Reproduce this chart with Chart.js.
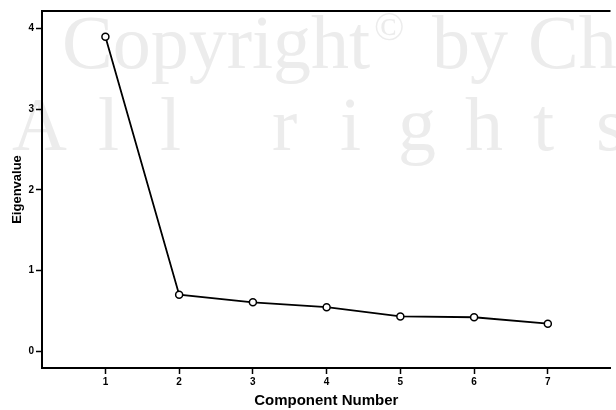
<!DOCTYPE html>
<html>
<head>
<meta charset="utf-8">
<script src="https://cdn.jsdelivr.net/npm/chart.js@4/dist/chart.umd.min.js"></script>
<style>
  html, body { margin: 0; padding: 0; background: #fff; }
  #wrap { width: 616px; height: 410px; }
</style>
</head>
<body>
<div id="wrap"><canvas id="scree"></canvas></div>
<script>
const components = [1, 2, 3, 4, 5, 6, 7];
const eigenvalues = [3.90, 0.70, 0.605, 0.545, 0.43, 0.42, 0.34];
const yTicks = [0, 1, 2, 3, 4];

// faint watermark behind the plot
const watermark = {
  id: 'watermark',
  beforeDraw(chart) {
    const ctx = chart.ctx;
    ctx.save();
    ctx.fillStyle = '#ececec';
    ctx.font = '76px "Liberation Serif", serif';
    ctx.textBaseline = 'alphabetic';
    ctx.fillText('Copyright', 62, 68);
    ctx.font = '40px "Liberation Serif", serif';
    ctx.fillText('©', 374, 40);
    ctx.font = '76px "Liberation Serif", serif';
    ctx.fillText('by', 432, 68);
    ctx.fillText('Ch', 528, 68);
    const row2 = [['A', 12], ['l', 98], ['l', 160], ['r', 272], ['i', 340], ['g', 398], ['h', 465], ['t', 533], ['s', 596]];
    row2.forEach(([ch, x]) => ctx.fillText(ch, x, 150));
    ctx.restore();
  }
};

// top frame line
const topFrame = {
  id: 'topFrame',
  afterDraw(chart) {
    const { ctx, chartArea } = chart;
    ctx.save();
    ctx.strokeStyle = '#000';
    ctx.lineWidth = 2;
    ctx.beginPath();
    ctx.moveTo(chartArea.left - 1, chartArea.top);
    ctx.lineTo(chartArea.right, chartArea.top);
    ctx.stroke();
    ctx.restore();
  }
};

new Chart(document.getElementById('scree'), {
  type: 'line',
  data: {
    datasets: [{
      data: components.map((c, i) => ({ x: c, y: eigenvalues[i] })),
      borderColor: '#000',
      borderWidth: 1.8,
      pointRadius: 3.5,
      pointBorderWidth: 1.5,
      pointBackgroundColor: '#fff',
      pointBorderColor: '#000',
      tension: 0
    }]
  },
  plugins: [watermark, topFrame],
  options: {
    responsive: true,
    maintainAspectRatio: false,
    animation: false,
    layout: { padding: { top: 11, right: 0, left: 0, bottom: 0 } },
    plugins: { legend: { display: false }, tooltip: { enabled: false } },
    scales: {
      x: {
        type: 'linear',
        min: 0.14,
        max: 7.85,
        afterBuildTicks(s) { s.ticks = components.map(v => ({ value: v })); },
        afterFit(s) { s.height = 42; },
        grid: { drawOnChartArea: false, drawTicks: true, tickLength: 6, tickWidth: 1.5, tickColor: '#000' },
        border: { color: '#000', width: 2 },
        ticks: { color: '#000', padding: 2, font: { family: '"Liberation Sans", Arial, sans-serif', size: 10, weight: 'bold' } },
        title: {
          display: true,
          text: 'Component Number',
          color: '#000',
          padding: { top: 2, bottom: 0 },
          font: { family: '"Liberation Sans", Arial, sans-serif', size: 15, weight: 'bold' }
        }
      },
      y: {
        type: 'linear',
        min: -0.21,
        max: 4.22,
        afterBuildTicks(s) { s.ticks = yTicks.map(v => ({ value: v })); },
        afterFit(s) { s.width = 42; },
        grid: { drawOnChartArea: false, drawTicks: true, tickLength: 6, tickWidth: 1.5, tickColor: '#000' },
        border: { color: '#000', width: 2 },
        ticks: { color: '#000', padding: 2, font: { family: '"Liberation Sans", Arial, sans-serif', size: 10, weight: 'bold' } },
        title: {
          display: true,
          text: 'Eigenvalue',
          color: '#000',
          padding: { top: 10, bottom: 2 },
          font: { family: '"Liberation Sans", Arial, sans-serif', size: 13, weight: 'bold' }
        }
      }
    }
  }
});
</script>
</body>
</html>
